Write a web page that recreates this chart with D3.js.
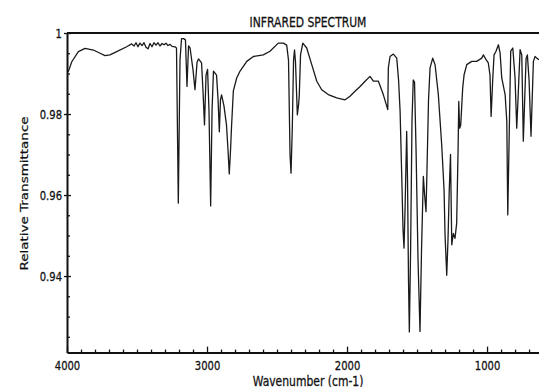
<!DOCTYPE html>
<html>
<head>
<meta charset="utf-8">
<script src="https://cdn.jsdelivr.net/npm/d3@7"></script>
<style>
  html, body { margin: 0; padding: 0; background: #fff; }
  svg { display: block; }
  text { font-family: "DejaVu Sans", Verdana, sans-serif; fill: #111; stroke: #111; stroke-width: 0.3px; }
</style>
</head>
<body>
<svg id="chart" width="539" height="387"></svg>
<script>
// ---- data ----
const wavenumber = [
  3991, 3966, 3919, 3871, 3812, 3764, 3729, 3693, 3645, 3574, 3538,
  3521, 3507, 3493, 3479, 3464, 3450, 3436, 3421, 3407, 3393, 3379, 3364, 3350, 3336, 3321, 3307, 3293, 3279, 3264, 3250, 3229, 3218,
  3205, 3193, 3182, 3168, 3154, 3143, 3132, 3121, 3100, 3086, 3071, 3061, 3039, 3029, 3018, 3007, 2996, 2986, 2974, 2964, 2954,
  2932, 2921, 2912, 2904, 2896, 2879, 2861, 2850, 2841, 2832, 2825, 2812, 2788, 2764, 2716, 2669, 2598, 2550, 2491, 2455, 2431,
  2418, 2407, 2400, 2391, 2382, 2375, 2368, 2355, 2346, 2341, 2332, 2316, 2288, 2252, 2216, 2181, 2134, 2074, 2014, 1979, 1943,
  1907, 1871, 1836, 1812, 1776, 1741, 1716, 1709, 1705, 1693, 1669, 1645, 1632, 1621, 1609, 1600, 1593, 1586, 1574, 1568, 1561,
  1555, 1546, 1536, 1527, 1518, 1507, 1493, 1479, 1468, 1455, 1446, 1436, 1429, 1418, 1407, 1388, 1371, 1348, 1324, 1314, 1307,
  1300, 1288, 1279, 1270, 1261, 1252, 1241, 1229, 1217, 1207, 1202, 1196, 1188, 1174, 1164, 1145, 1109, 1074, 1038, 1026, 1007,
  991, 979, 971, 959, 950, 936, 919, 907, 895, 871, 859, 852, 841, 831, 816, 800, 788, 779, 764, 752, 741, 729, 721, 712, 700,
  686, 669, 657, 645, 629
];
const transmittance = [
  0.9904, 0.9929, 0.9954, 0.9962, 0.9958, 0.9950, 0.9944, 0.9946, 0.9954, 0.9966, 0.9973,
  0.9968, 0.9976, 0.9966, 0.9975, 0.9969, 0.9976, 0.9965, 0.9961, 0.9974, 0.9966, 0.9976, 0.9970, 0.9976, 0.9968, 0.9974, 0.9971, 0.9975, 0.9969, 0.9972, 0.9967, 0.9966, 0.9963,
  0.9580, 0.9933, 0.9986, 0.9986, 0.9983, 0.9868, 0.9968, 0.9963, 0.9909, 0.9860, 0.9928, 0.9936, 0.9926, 0.9859, 0.9773, 0.9896, 0.9910, 0.9810, 0.9573, 0.9810, 0.9906,
  0.9896, 0.9835, 0.9756, 0.9835, 0.9847, 0.9820, 0.9773, 0.9711, 0.9652, 0.9711, 0.9768, 0.9857, 0.9889, 0.9906, 0.9930, 0.9942, 0.9946, 0.9955, 0.9975, 0.9975, 0.9970,
  0.9933, 0.9699, 0.9654, 0.9765, 0.9933, 0.9958, 0.9928, 0.9798, 0.9823, 0.9847, 0.9946, 0.9975, 0.9963, 0.9922, 0.9881, 0.9860, 0.9848, 0.9840, 0.9835, 0.9844, 0.9856,
  0.9868, 0.9881, 0.9893, 0.9881, 0.9881, 0.9848, 0.9819, 0.9811, 0.9914, 0.9942, 0.9948, 0.9938, 0.9884, 0.9807, 0.9642, 0.9514, 0.9469, 0.9560, 0.9757, 0.9637, 0.9390,
  0.9262, 0.9464, 0.9785, 0.9884, 0.9879, 0.9711, 0.9440, 0.9263, 0.9464, 0.9646, 0.9600, 0.9559, 0.9662, 0.9835, 0.9914, 0.9938, 0.9921, 0.9848, 0.9724, 0.9659, 0.9612,
  0.9501, 0.9402, 0.9489, 0.9612, 0.9700, 0.9477, 0.9505, 0.9493, 0.9530, 0.9711, 0.9831, 0.9765, 0.9773, 0.9864, 0.9897, 0.9922, 0.9930, 0.9930, 0.9938, 0.9946, 0.9934,
  0.9926, 0.9896, 0.9794, 0.9889, 0.9946, 0.9955, 0.9971, 0.9951, 0.9889, 0.9848, 0.9782, 0.9551, 0.9765, 0.9955, 0.9963, 0.9889, 0.9765, 0.9835, 0.9959, 0.9946, 0.9733, 0.9859, 0.9938, 0.9946, 0.9884,
  0.9745, 0.9930, 0.9942, 0.9938, 0.9934
];
const xMajorTicks = [4000, 3000, 2000, 1000];
const xTickLabels = ["4000", "3000", "2000", "1000"];
const yMajorTicks = [0.94, 0.96, 0.98, 1];
const yTickLabels = ["0.94", "0.96", "0.98", "1"];
const titleText = "INFRARED SPECTRUM";
const xTitle = "Wavenumber (cm-1)";
const yTitle = "Relative Transmittance";

// ---- layout ----
const svg = d3.select("#chart");
const L = 67, R = 539, T = 33, B = 352.6;
const SQ = 0.77; // horizontal squash of the original lettering

const x = d3.scaleLinear().domain([4000, 629]).range([L, R]);
const y = d3.scaleLinear().domain([0.9211, 1]).range([B, T]);

const xMinor = d3.range(3900, 600, -100).filter(v => v % 1000 !== 0);
const yMinor = d3.range(0.925, 1.0, 0.005).map(v => +v.toFixed(3)).filter(v => !yMajorTicks.some(m => Math.abs(m - v) < 1e-6));

function squash(sel) {
  sel.each(function () {
    const w = this.getComputedTextLength();
    d3.select(this).attr("textLength", w * SQ).attr("lengthAdjust", "spacingAndGlyphs");
  });
}

// clip
svg.append("defs").append("clipPath").attr("id", "plotclip")
  .append("rect").attr("x", L).attr("y", T - 2).attr("width", R - L).attr("height", B - T + 2);

// spectrum
const pts = wavenumber.map((w, i) => [w, transmittance[i]]);
const line = d3.line().x(d => x(d[0])).y(d => y(d[1]));
svg.append("path")
  .datum(pts)
  .attr("clip-path", "url(#plotclip)")
  .attr("d", line)
  .attr("fill", "none")
  .attr("stroke", "#1a1a1a")
  .attr("stroke-width", 1.3)
  .attr("stroke-linejoin", "round");

// top frame line
svg.append("line").attr("x1", L).attr("x2", R).attr("y1", T).attr("y2", T)
  .attr("stroke", "#111").attr("stroke-width", 2);

function tickStyle(g) {
  g.select(".domain").remove();
  g.selectAll("line").attr("stroke", "#111").attr("stroke-width", 1.3);
}

// y axis: labels + domain
const yAx = svg.append("g").attr("transform", `translate(${L},0)`)
  .call(d3.axisLeft(y).tickValues(yMajorTicks).tickSize(0).tickPadding(5)
    .tickFormat((d, i) => yTickLabels[i]));
yAx.select(".domain").attr("stroke", "#111").attr("stroke-width", 2);
yAx.selectAll("text").style("font-size", "13px").style("font-family", "DejaVu Sans").attr("fill", "#111").call(squash);
svg.append("g").attr("transform", `translate(${L},0)`)
  .call(d3.axisRight(y).tickValues(yMajorTicks).tickSize(4).tickFormat("")).call(tickStyle);
svg.append("g").attr("transform", `translate(${L},0)`)
  .call(d3.axisLeft(y).tickValues(yMajorTicks).tickSize(3).tickFormat("")).call(tickStyle);
svg.append("g").attr("transform", `translate(${L},0)`)
  .call(d3.axisRight(y).tickValues(yMinor).tickSize(3).tickFormat("")).call(tickStyle);

// x axis: labels + domain
const xAx = svg.append("g").attr("transform", `translate(0,${B})`)
  .call(d3.axisBottom(x).tickValues(xMajorTicks).tickSize(0).tickPadding(8)
    .tickFormat((d, i) => xTickLabels[i]));
xAx.select(".domain").attr("stroke", "#111").attr("stroke-width", 2);
xAx.selectAll("text").style("font-size", "13px").style("font-family", "DejaVu Sans").attr("fill", "#111").call(squash);
svg.append("g").attr("transform", `translate(0,${B})`)
  .call(d3.axisTop(x).tickValues(xMajorTicks).tickSize(6).tickFormat("")).call(tickStyle);
svg.append("g").attr("transform", `translate(0,${B})`)
  .call(d3.axisTop(x).tickValues(xMinor).tickSize(3).tickFormat("")).call(tickStyle);

// title
svg.append("text").attr("x", 308).attr("y", 26.5).attr("text-anchor", "middle")
  .style("font-size", "14px").text(titleText).call(squash);

// x title
svg.append("text").attr("x", 308).attr("y", 385.5).attr("text-anchor", "middle")
  .style("font-size", "14px").text(xTitle).call(squash);

// y title (rotated; its thickness squashed horizontally)
svg.append("text")
  .attr("transform", `translate(28.3,193.5) rotate(-90) scale(1,${SQ})`)
  .attr("text-anchor", "middle")
  .style("font-size", "13.5px").text(yTitle);
</script>
</body>
</html>
